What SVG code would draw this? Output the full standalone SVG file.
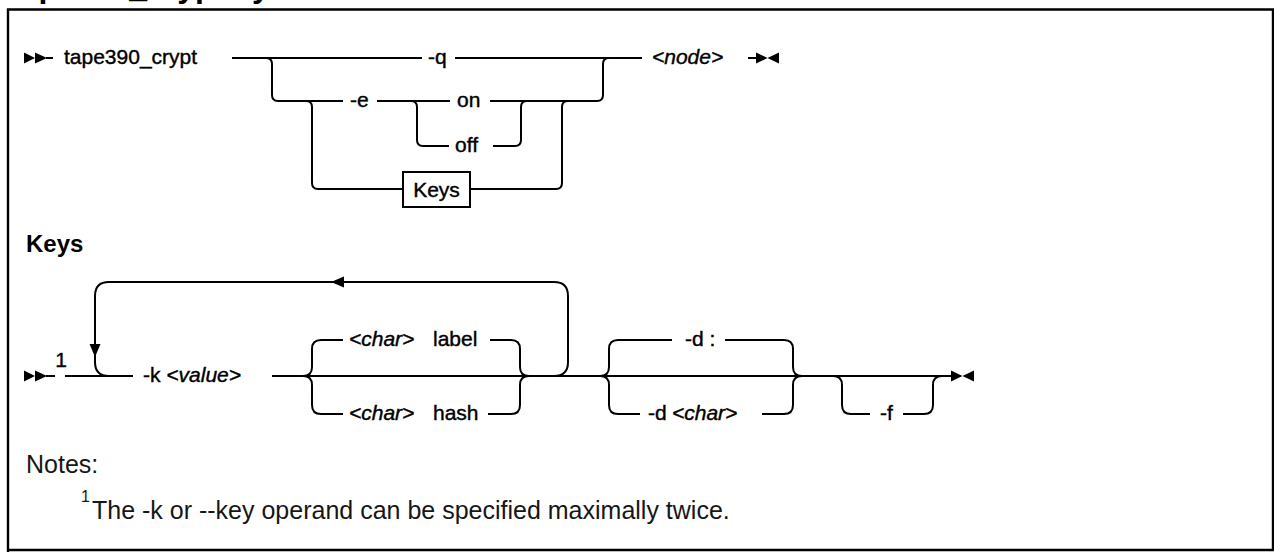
<svg xmlns="http://www.w3.org/2000/svg" width="1274" height="552" viewBox="0 0 1274 552">
<style>
.ln{fill:none;stroke:#000;stroke-width:2}
.ah{fill:#000;stroke:none}
.lb{font-family:"Liberation Sans",Arial,sans-serif;font-size:21px;fill:#000;stroke:#000;stroke-width:0.4}
.it{font-style:italic}
.hd{font-family:"Liberation Sans",Arial,sans-serif;font-weight:bold;fill:#000}
.nt{font-family:"Liberation Sans",Arial,sans-serif;font-size:25px;fill:#161616}
.box{fill:#fff;stroke:#000;stroke-width:2}
</style>
<rect x="0" y="0" width="1274" height="552" fill="#fff"/>
<text class="hd" x="10" y="-3" font-size="32">tape390_crypt syntax</text>
<g id="frame" class="ln">
<path d="M8 552 V9.5 H1273 V550 H8" stroke-width="2.4"/>
</g>
<g id="connectors">
<!-- main syntax row -->
<path class="ln" d="M46 58 H53 M232 58 H422 M455 58 H642"/>
<polygon class="ah" points="24,52.5 35,58 24,63.5"/>
<polygon class="ah" points="35,52.5 47,58 35,63.5"/>
<path class="ln" d="M266 58 Q272 58 272 64 V95 Q272 101 278 101 H343 M377 101 H450 M490 101 H597 Q603 101 603 95 V64 Q603 58 609 58"/>
<path class="ln" d="M411 101 Q417 101 417 107 V140 Q417 146 423 146 H449 M493 146 H515 Q521 146 521 140 V107 Q521 101 527 101"/>
<path class="ln" d="M306 101 Q312 101 312 107 V183 Q312 189 318 189 H403 M470 189 H556 Q562 189 562 183 V107 Q562 101 568 101"/>
<path class="ln" d="M748 58 H757"/>
<polygon class="ah" points="756,52.5 767.5,58 756,63.5"/>
<polygon class="ah" points="779,52.5 767.5,58 779,63.5"/>
<!-- Keys fragment -->
<path class="ln" d="M46 376 H55 M65 376 H133 M272 376 H952"/>
<polygon class="ah" points="24,370.5 35,376 24,381.5"/>
<polygon class="ah" points="35,370.5 47,376 35,381.5"/>
<path class="ln" d="M554 376 Q568 376 568 362 V296 Q568 282 554 282 H109 Q95 282 95 296 V362 Q95 376 109 376"/>
<polygon class="ah" points="331,282 344,276.5 344,287.5"/>
<polygon class="ah" points="89.5,344 100.5,344 95,357"/>
<path class="ln" d="M303 376 Q312 376 312 367 V349 Q312 340 321 340 H343 M490 340 H511 Q520 340 520 349 V367 Q520 376 529 376"/>
<path class="ln" d="M303 376 Q312 376 312 385 V405 Q312 414 321 414 H343 M488 414 H511 Q520 414 520 405 V385 Q520 376 529 376"/>
<path class="ln" d="M600 376 Q609 376 609 367 V349 Q609 340 618 340 H672 M725 340 H784 Q793 340 793 349 V367 Q793 376 802 376"/>
<path class="ln" d="M600 376 Q609 376 609 385 V405 Q609 414 618 414 H640 M762 414 H784 Q793 414 793 405 V385 Q793 376 802 376"/>
<path class="ln" d="M833 376 Q842 376 842 385 V405 Q842 414 851 414 H870 M903 414 H924 Q933 414 933 405 V385 Q933 376 942 376"/>
<polygon class="ah" points="951,370.5 962.5,376 951,381.5"/>
<polygon class="ah" points="974,370.5 962.5,376 974,381.5"/>
</g>
<g id="n-cmd"><text class="lb" x="64" y="64">tape390_crypt</text></g>
<g id="n-q"><text class="lb" x="428" y="64">-q</text></g>
<g id="n-e"><text class="lb" x="350" y="107">-e</text></g>
<g id="n-on"><text class="lb" x="457" y="107">on</text></g>
<g id="n-off"><text class="lb" x="455" y="152">off</text></g>
<g id="n-keysref"><rect class="box" x="403" y="172" width="67" height="35"/><text class="lb" x="436.5" y="196.5" text-anchor="middle">Keys</text></g>
<g id="n-node"><text class="lb it" x="652" y="64">&lt;node&gt;</text></g>
<g id="h-keys"><text class="hd" x="26" y="252" font-size="24">Keys</text></g>
<g id="n-note1"><text class="lb" x="61" y="366.5" text-anchor="middle" font-size="19">1</text></g>
<g id="n-k"><text class="lb" x="143" y="382">-k <tspan class="it">&lt;value&gt;</tspan></text></g>
<g id="n-label"><text class="lb" x="349" y="346"><tspan class="it">&lt;char&gt;</tspan><tspan x="433">label</tspan></text></g>
<g id="n-hash"><text class="lb" x="349" y="420"><tspan class="it">&lt;char&gt;</tspan><tspan x="433">hash</tspan></text></g>
<g id="n-dcolon"><text class="lb" x="685" y="346">-d :</text></g>
<g id="n-dchar"><text class="lb" x="648" y="420">-d<tspan class="it" x="672">&lt;char&gt;</tspan></text></g>
<g id="n-f"><text class="lb" x="880" y="420">-f</text></g>
<g id="notes">
<text class="nt" x="26" y="473">Notes:</text>
<text class="nt" x="81" y="519"><tspan font-size="16" dy="-17">1</tspan><tspan x="92" dy="17">The -k or --key operand can be specified maximally twice.</tspan></text>
</g>
</svg>
